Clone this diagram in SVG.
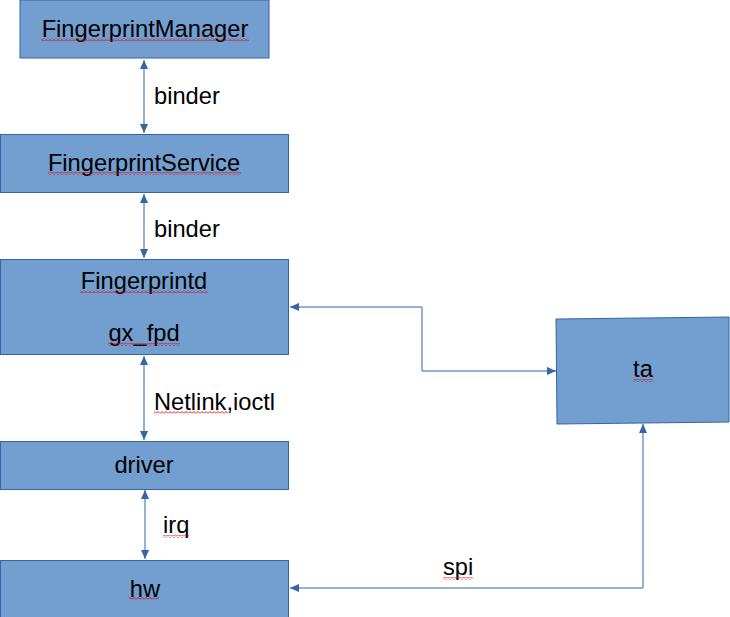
<svg xmlns="http://www.w3.org/2000/svg" width="730" height="617" viewBox="0 0 730 617">
<style>
.box{fill:#729fcf;stroke:#3465a4;stroke-width:1}
.lbl{font-family:"Liberation Sans",Arial,sans-serif;font-size:23.7px;fill:#000}
.c{text-anchor:middle}
.ln{fill:none;stroke:#3465a4;stroke-width:1}
.sq{fill:url(#wave)}
</style>
<defs>
<marker id="ah" viewBox="0 0 10 10" refX="10" refY="5" markerWidth="10" markerHeight="9" markerUnits="userSpaceOnUse" orient="auto-start-reverse">
<path d="M0,0.5 L10,5 L0,9.5 Z" fill="#3465a4"/>
</marker>
<pattern id="wave" patternUnits="userSpaceOnUse" width="4" height="3">
<path d="M0,2.5 L2,0.5 L4,2.5" fill="none" stroke="#e00000" stroke-width="0.9"/>
</pattern>
</defs>
<g id="connectors">
<line class="ln" x1="144" y1="60" x2="144" y2="133" marker-start="url(#ah)" marker-end="url(#ah)"/>
<line class="ln" x1="144" y1="194" x2="144" y2="258" marker-start="url(#ah)" marker-end="url(#ah)"/>
<line class="ln" x1="144" y1="356" x2="144" y2="440" marker-start="url(#ah)" marker-end="url(#ah)"/>
<line class="ln" x1="145" y1="490" x2="145" y2="559" marker-start="url(#ah)" marker-end="url(#ah)"/>
<polyline class="ln" points="290,307 422,307 422,371 556,371" marker-start="url(#ah)" marker-end="url(#ah)"/>
<polyline class="ln" points="643,424 643,588 290,588" marker-start="url(#ah)" marker-end="url(#ah)"/>
<text class="lbl" x="154" y="104">binder</text>
<text class="lbl" x="154" y="237">binder</text>
<text class="lbl" x="154" y="410">Netlink,ioctl</text>
<rect class="sq" x="154" y="411" width="74" height="3"/>
<text class="lbl" x="163" y="533">irq</text>
<rect class="sq" x="163" y="535" width="26" height="3"/>
<text class="lbl" x="443" y="575">spi</text>
<rect class="sq" x="443" y="577" width="30" height="3"/>
</g>
<g id="fingerprintmanager">
<rect class="box" x="20" y="0" width="249" height="58"/>
<text class="lbl c" x="145" y="37">FingerprintManager</text>
<rect class="sq" x="41" y="38" width="208" height="3"/>
</g>
<g id="fingerprintservice">
<rect class="box" x="0.5" y="134.5" width="288" height="58"/>
<text class="lbl c" x="144" y="171">FingerprintService</text>
<rect class="sq" x="48" y="172" width="193" height="3"/>
</g>
<g id="fingerprintd">
<rect class="box" x="0.5" y="259.5" width="288" height="95"/>
<text class="lbl c" x="144" y="289">Fingerprintd</text>
<rect class="sq" x="80" y="290" width="128" height="3"/>
<text class="lbl c" x="144" y="341">gx_fpd</text>
<rect class="sq" x="108" y="343" width="72" height="3"/>
</g>
<g id="driver">
<rect class="box" x="0.5" y="441.5" width="288" height="48"/>
<text class="lbl c" x="144" y="473">driver</text>
</g>
<g id="hw">
<rect class="box" x="0.5" y="560.5" width="288" height="57"/>
<text class="lbl c" x="145" y="597">hw</text>
<rect class="sq" x="129" y="597" width="30" height="3"/>
</g>
<g id="ta">
<polygon class="box" points="556,319 729,317 729,422 557,424"/>
<text class="lbl c" x="643" y="377">ta</text>
<rect class="sq" x="633" y="379" width="20" height="3"/>
</g>
</svg>
